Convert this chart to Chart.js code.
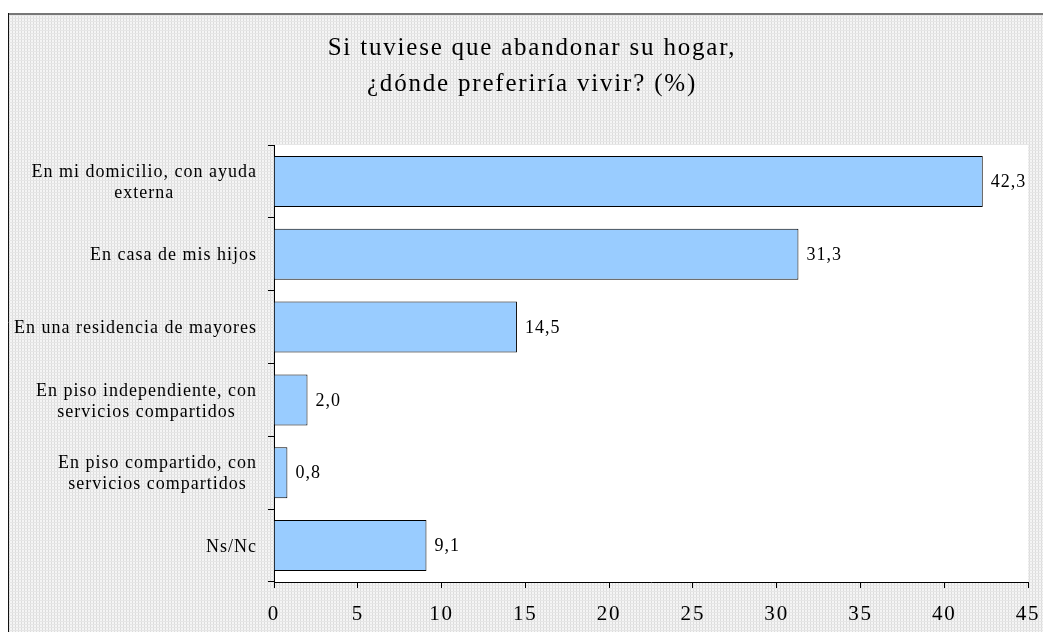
<!DOCTYPE html>
<html>
<head>
<meta charset="utf-8">
<script src="https://cdn.jsdelivr.net/npm/chart.js@4.4.1/dist/chart.umd.min.js"></script>
<style>
  html, body { margin: 0; padding: 0; background: #fff; }
  #wrap { width: 1043px; height: 632px; }
</style>
</head>
<body>
<div id="wrap"><canvas id="c"></canvas></div>
<script>
// data
var titleLines = ['Si tuviese que abandonar su hogar,', '¿dónde preferiría vivir? (%)'];
var categories = [
    ['En mi domicilio, con ayuda', 'externa'],
    ['En casa de mis hijos'],
    ['En una residencia de mayores'],
    ['En piso independiente, con', 'servicios compartidos'],
    ['En piso compartido, con', 'servicios compartidos'],
    ['Ns/Nc']
];
var values = [42.3, 31.3, 14.5, 2.0, 0.8, 9.1];
var xTicks = [0, 5, 10, 15, 20, 25, 30, 35, 40, 45];

var serif = "'Liberation Serif', 'Times New Roman', Times, serif";

// light grey dotted fill like the old Excel pattern
function makePattern(ctx){
    var t = document.createElement('canvas');
    t.width = 3; t.height = 3;
    var g = t.getContext('2d');
    g.fillStyle = '#f5f5f5';
    g.fillRect(0, 0, 3, 3);
    g.fillStyle = '#dcdcdc';
    g.fillRect(0, 0, 1, 3);
    g.fillStyle = '#e6e6e6';
    g.fillRect(0, 0, 3, 1);
    return ctx.createPattern(t, 'repeat');
}

var backdrop = {
    id: 'backdrop',
    beforeDraw: function(chart){
        var ctx = chart.ctx, a = chart.chartArea;
        ctx.letterSpacing = '1.8px';
        ctx.save();
        ctx.fillStyle = '#fff';
        ctx.fillRect(0, 0, chart.width, chart.height);
        ctx.fillStyle = makePattern(ctx);
        ctx.fillRect(8, 13, chart.width, chart.height);
        ctx.strokeStyle = '#777';
        ctx.lineWidth = 2;
        ctx.beginPath(); ctx.moveTo(8, 14); ctx.lineTo(chart.width, 14); ctx.stroke();
        ctx.strokeStyle = '#111';
        ctx.lineWidth = 1;
        ctx.beginPath(); ctx.moveTo(8.5, 13); ctx.lineTo(8.5, chart.height); ctx.stroke();
        ctx.fillStyle = '#fff';
        ctx.fillRect(a.left, a.top, a.right - a.left, a.bottom - a.top);
        ctx.restore();
    }
};

var labels = {
    id: 'labels',
    afterDraw: function(chart){
        var ctx = chart.ctx;
        var y = chart.scales.y;
        var meta = chart.getDatasetMeta(0);
        ctx.save();
        ctx.letterSpacing = '1px';
        ctx.font = '18px ' + serif;
        ctx.fillStyle = '#000';
        ctx.textBaseline = 'middle';
        ctx.textAlign = 'center';
        var lh = 21;
        categories.forEach(function(lines, i){
            var cy = y.getPixelForTick(i) + 1.5;
            var w = Math.max.apply(null, lines.map(function(s){ return ctx.measureText(s).width; }));
            var cx = y.right - 17 - w / 2;
            var y0 = cy - (lines.length - 1) * lh / 2;
            lines.forEach(function(s, k){ ctx.fillText(s, cx, y0 + k * lh); });
        });
        ctx.textAlign = 'left';
        meta.data.forEach(function(bar, i){
            ctx.fillText(values[i].toFixed(1).replace('.', ','), bar.x + 8, bar.y + 1);
        });
        ctx.restore();
    }
};

var chart = new Chart(document.getElementById('c'), {
    type: 'bar',
    data: {
        labels: categories,
        datasets: [{
            data: values,
            backgroundColor: '#99ccff',
            borderColor: '#000',
            borderWidth: 1,
            barPercentage: 0.7,
            categoryPercentage: 1
        }]
    },
    options: {
        indexAxis: 'y',
        responsive: true,
        maintainAspectRatio: false,
        animation: false,
        layout: { padding: { left: 36, right: 15, top: 0, bottom: 0 } },
        plugins: {
            legend: { display: false },
            tooltip: { enabled: false },
            title: {
                display: true,
                text: titleLines,
                color: '#000',
                font: { family: serif, size: 25, weight: 'normal', lineHeight: 1.44 },
                padding: { top: 30, bottom: 43 }
            }
        },
        scales: {
            x: {
                min: 0,
                max: 45,
                afterBuildTicks: function(s){ s.ticks = xTicks.map(function(v){ return { value: v }; }); },
                afterFit: function(s){ s.height = 50; s.paddingLeft = 0; s.paddingRight = 0; },
                grid: { drawOnChartArea: false, tickLength: 6, color: '#000' },
                border: { color: '#000' },
                ticks: { color: '#000', padding: 14, maxRotation: 0, font: { family: serif, size: 21 } }
            },
            y: {
                afterFit: function(s){ s.width = 238; },
                grid: { drawOnChartArea: false, offset: true, tickLength: 6, color: '#000' },
                border: { color: '#000' },
                ticks: { display: false }
            }
        }
    },
    plugins: [backdrop, labels]
});
</script>
</body>
</html>
